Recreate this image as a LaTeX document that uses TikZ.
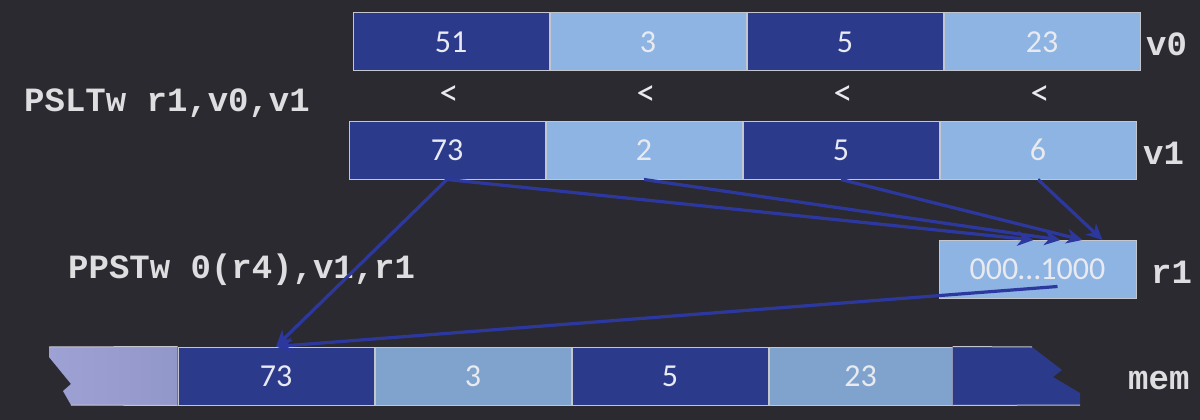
\documentclass[tikz,border=0pt]{standalone}
\usepackage{fontspec}
\setmainfont{Carlito}
\setmonofont{Liberation Mono}
\usepackage{tikz}
\usetikzlibrary{positioning,calc,arrows.meta}
\definecolor{fundo}{HTML}{2B2A30}
\definecolor{escuro}{HTML}{2C3A8C}
\definecolor{claro}{HTML}{8DB4E2}
\definecolor{memclaro}{HTML}{7FA3CD}
\definecolor{lilasclaro}{HTML}{9EA1D3}
\definecolor{lilas}{HTML}{9297CA}
\definecolor{borda}{HTML}{C4C6CE}
\definecolor{azulseta}{HTML}{2D389E}
\definecolor{texto}{HTML}{E8EAF0}
\definecolor{rotulo}{HTML}{DEDEE0}

\begin{document}
\begin{tikzpicture}[x=1pt,y=-1pt,
        every node/.style={text=texto},
        cel/.style={draw=borda,line width=1pt,minimum width=196pt,minimum height=58pt,inner sep=0pt,font=\fontsize{32}{36}\selectfont},
        esc/.style={cel,fill=escuro},
        cla/.style={cel,fill=claro},
        mcl/.style={cel,fill=memclaro},
        cod/.style={text=rotulo,font=\ttfamily\bfseries\fontsize{34}{40}\selectfont,anchor=west,inner sep=0pt},
        ponta/.style={-{Stealth[length=16pt,width=15pt,inset=5pt]},azulseta,line width=3.2pt},
      ]
      \useasboundingbox (0,0) rectangle (1200,420);
      \fill[fundo] (0,0) rectangle (1200,420);
      % v0
      \node[esc] (a1) at (451,42) {51};
      \node[cla, right=0pt of a1] (a2) {3};
      \node[esc, right=0pt of a2] (a3) {5};
      \node[cla, right=0pt of a3] (a4) {23};
      \node[cod] (lv0) at (1146,44) {v0};
      % v1
      \node[esc] (b1) at (447,150) {73};
      \node[cla, right=0pt of b1] (b2) {2};
      \node[esc, right=0pt of b2] (b3) {5};
      \node[cla, right=0pt of b3] (b4) {6};
      \node[cod] (lv1) at (1143,153) {v1};
      \foreach \i in {1,...,4}
        \node[font=\fontsize{38}{40}\selectfont] (lt\i) at ($(a\i.south)!.5!(b\i.north)$) {<};
      % r1
      \node[cla,minimum width=197pt] (r1) at (1037.5,269.5) {000…1000};
      \node[cod] (lr1) at (1151,272) {r1};
      % instrucoes
      \node[cod] (i1) at (24,103) {PSLTw r1,v0,v1};
      \node[cod] (i2) at (68,270) {PPSTw 0(r4),v1,r1};
      % mem
      \node[esc] (m1) at (276,376) {73};
      \node[mcl, right=0pt of m1] (m2) {3};
      \node[esc, right=0pt of m2] (m3) {5};
      \node[mcl, minimum width=183pt, right=0pt of m3] (m4) {23};
      \shade[left color=lilasclaro,right color=lilas] (m1.north west) -- (49,347) -- (49,357) -- (71,384) -- (63,391) -- (71,405) -- (m1.south west) -- cycle;
      \fill[escuro] (m4.north east) -- (1032,347) -- (1062,370) -- (1053,377) -- (1080,393) -- (1080,405) -- (m4.south east) -- cycle;
      \draw[borda,line width=1pt] (49,347) -- (m1.north west) (71,405) -- (m1.south west);
      \draw[borda,line width=1pt] (1032,347) -- (m4.north east) (1080,405) -- (m4.south east);
      \node[cod] (lmem) at (1128,381) {mem};
      % setas
      \draw[ponta] (b1.south) -- ([xshift=-103pt]r1.north east);
      \draw[ponta] (b2.south) -- ([xshift=-76pt]r1.north east);
      \draw[ponta] (b3.south) -- ([xshift=-54pt]r1.north east);
      \draw[ponta] (b4.south) -- ([xshift=-34pt]r1.north east);
      \draw[ponta] (b1.south) -- (m1.north);
      \draw[ponta] ([shift={(20pt,-17pt)}]r1.center) -- (m1.north);
    \end{tikzpicture}
\end{document}
